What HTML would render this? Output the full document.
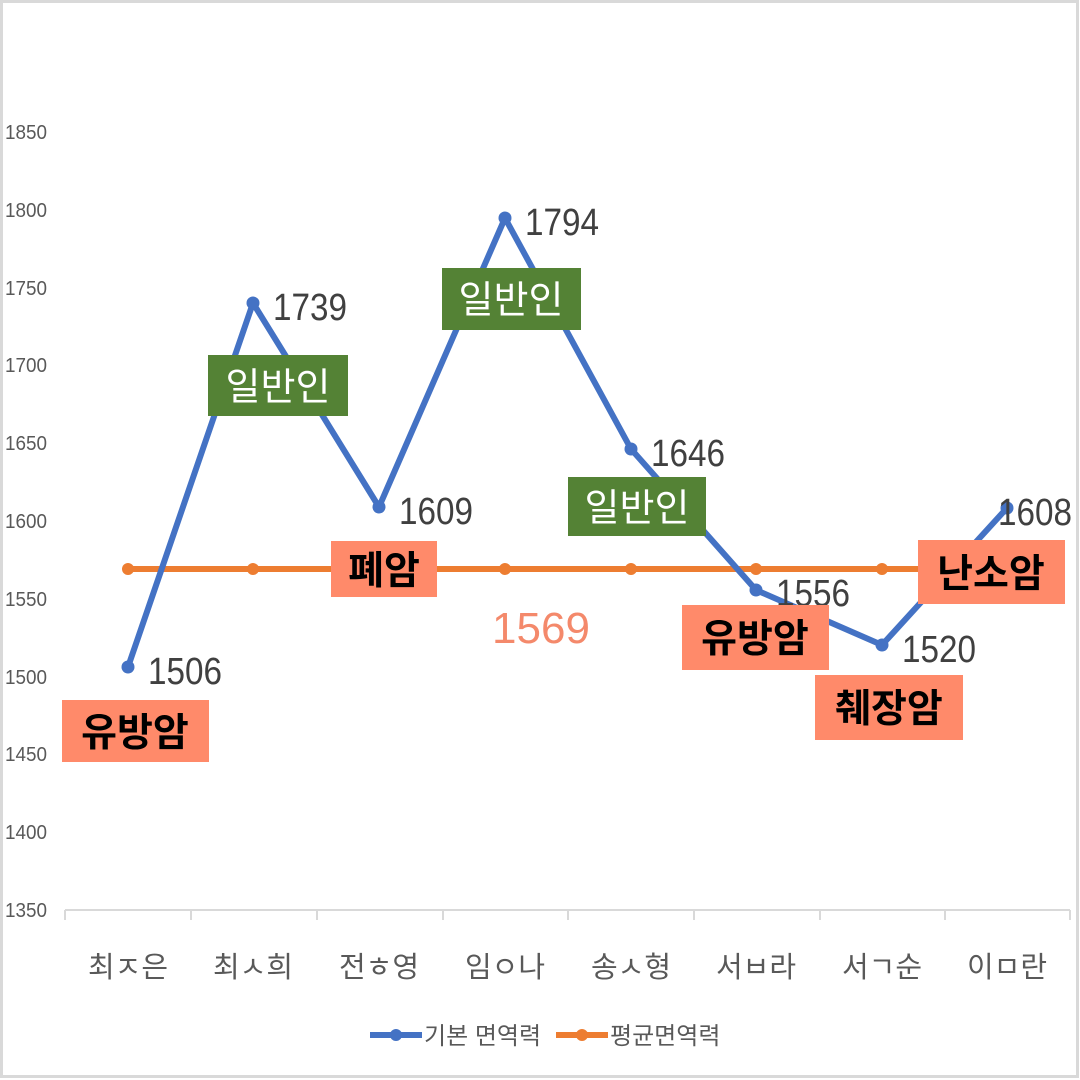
<!DOCTYPE html>
<html><head><meta charset="utf-8"><style>
html,body{margin:0;padding:0;background:#fff;}
svg{display:block;}
text{font-family:"Liberation Sans","Noto Sans CJK KR",sans-serif;}
</style></head><body>
<svg width="1080" height="1080" viewBox="0 0 1080 1080" xmlns="http://www.w3.org/2000/svg">
<rect x="1.5" y="1.5" width="1076" height="1075" fill="#fff" stroke="#d9d9d9" stroke-width="3"/>
<g fill="#595959" font-size="20">
<text x="5" y="139" textLength="42" lengthAdjust="spacingAndGlyphs">1850</text>
<text x="5" y="217" textLength="42" lengthAdjust="spacingAndGlyphs">1800</text>
<text x="5" y="295" textLength="42" lengthAdjust="spacingAndGlyphs">1750</text>
<text x="5" y="372" textLength="42" lengthAdjust="spacingAndGlyphs">1700</text>
<text x="5" y="450" textLength="42" lengthAdjust="spacingAndGlyphs">1650</text>
<text x="5" y="528" textLength="42" lengthAdjust="spacingAndGlyphs">1600</text>
<text x="5" y="606" textLength="42" lengthAdjust="spacingAndGlyphs">1550</text>
<text x="5" y="684" textLength="42" lengthAdjust="spacingAndGlyphs">1500</text>
<text x="5" y="761" textLength="42" lengthAdjust="spacingAndGlyphs">1450</text>
<text x="5" y="839" textLength="42" lengthAdjust="spacingAndGlyphs">1400</text>
<text x="5" y="917" textLength="42" lengthAdjust="spacingAndGlyphs">1350</text>
</g>
<g stroke="#d9d9d9" stroke-width="2">
<line x1="65" y1="910" x2="1070" y2="910"/>
<line x1="65" y1="910" x2="65" y2="920"/><line x1="191" y1="910" x2="191" y2="920"/>
<line x1="317" y1="910" x2="317" y2="920"/><line x1="443" y1="910" x2="443" y2="920"/>
<line x1="568" y1="910" x2="568" y2="920"/><line x1="694" y1="910" x2="694" y2="920"/>
<line x1="820" y1="910" x2="820" y2="920"/><line x1="945" y1="910" x2="945" y2="920"/>
<line x1="1070" y1="910" x2="1070" y2="920"/>
</g>
<g fill="#595959" font-size="29" text-anchor="middle">
<text x="128" y="977">최ㅈ은</text><text x="253" y="977">최ㅅ희</text>
<text x="379" y="977">전ㅎ영</text><text x="505" y="977">임ㅇ나</text>
<text x="631" y="977">송ㅅ형</text><text x="756" y="977">서ㅂ라</text>
<text x="882" y="977">서ㄱ순</text><text x="1007" y="977">이ㅁ란</text>
</g>
<polyline points="128,569 1007,569" fill="none" stroke="#ED7D31" stroke-width="6"/>
<g fill="#ED7D31">
<circle cx="128" cy="569" r="6"/><circle cx="253" cy="569" r="6"/><circle cx="379" cy="569" r="6"/><circle cx="505" cy="569" r="6"/><circle cx="631" cy="569" r="6"/><circle cx="756" cy="569" r="6"/><circle cx="882" cy="569" r="6"/><circle cx="1007" cy="569" r="6"/>
</g>
<polyline points="128,667 253,303 379,507 505,218 631,449 756,590 882,645 1007,508" fill="none" stroke="#4472C4" stroke-width="6" stroke-linejoin="round"/>
<g fill="#4472C4">
<circle cx="128" cy="667" r="6.5"/><circle cx="253" cy="303" r="6.5"/><circle cx="379" cy="507" r="6.5"/><circle cx="505" cy="218" r="6.5"/><circle cx="631" cy="449" r="6.5"/><circle cx="756" cy="590" r="6.5"/><circle cx="882" cy="645" r="6.5"/><circle cx="1007" cy="508" r="6.5"/>
</g>
<g fill="#404040" font-size="38">
<text x="148" y="684" textLength="74" lengthAdjust="spacingAndGlyphs">1506</text>
<text x="273" y="320" textLength="74" lengthAdjust="spacingAndGlyphs">1739</text>
<text x="399" y="524" textLength="74" lengthAdjust="spacingAndGlyphs">1609</text>
<text x="525" y="235" textLength="74" lengthAdjust="spacingAndGlyphs">1794</text>
<text x="651" y="466" textLength="74" lengthAdjust="spacingAndGlyphs">1646</text>
<text x="776" y="606" textLength="74" lengthAdjust="spacingAndGlyphs">1556</text>
<text x="902" y="662" textLength="74" lengthAdjust="spacingAndGlyphs">1520</text>
<text x="998" y="525" textLength="74" lengthAdjust="spacingAndGlyphs">1608</text>
</g>
<text x="541" y="643" fill="#F4896B" font-size="44" text-anchor="middle">1569</text>
<g fill="#548235">
<rect x="208" y="355" width="140" height="61"/>
<rect x="442" y="268" width="139" height="62"/>
<rect x="568" y="477" width="138" height="59"/>
</g>
<g fill="#fff" font-size="38" text-anchor="middle">
<text x="278" y="400">일반인</text>
<text x="511" y="313">일반인</text>
<text x="637" y="521">일반인</text>
</g>
<g fill="#FF8A6A">
<rect x="62" y="700" width="147" height="62"/>
<rect x="331" y="541" width="106" height="56"/>
<rect x="682" y="605" width="147" height="65"/>
<rect x="815" y="675" width="148" height="65"/>
<rect x="918" y="540" width="147" height="64"/>
</g>
<g fill="#000" font-size="39" font-weight="bold" text-anchor="middle">
<text x="135" y="746">유방암</text>
<text x="384" y="584">폐암</text>
<text x="755" y="652">유방암</text>
<text x="889" y="722">췌장암</text>
<text x="991" y="587">난소암</text>
</g>
<line x1="370" y1="1035" x2="422" y2="1035" stroke="#4472C4" stroke-width="6"/>
<circle cx="396" cy="1035" r="6" fill="#4472C4"/>
<text x="424" y="1044" fill="#595959" font-size="24">기본 면역력</text>
<line x1="556" y1="1035" x2="608" y2="1035" stroke="#ED7D31" stroke-width="6"/>
<circle cx="582" cy="1035" r="6" fill="#ED7D31"/>
<text x="610" y="1044" fill="#595959" font-size="24">평균면역력</text>
</svg>
</body></html>
